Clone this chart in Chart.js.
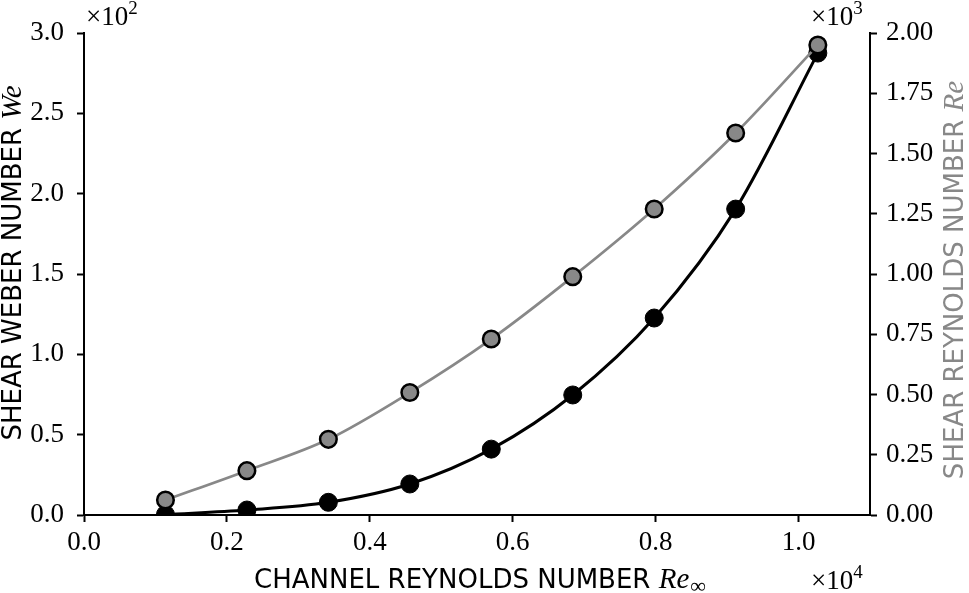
<!DOCTYPE html>
<html>
<head>
<meta charset="utf-8">
<script src="https://cdn.jsdelivr.net/npm/chart.js@4"></script>
<style>
html,body{margin:0;padding:0;background:#fff;}
#wrap{width:969px;height:593px;}
</style>
</head>
<body>
<div id="wrap"><canvas id="c" width="969" height="593"></canvas></div>
<script>
// Channel Reynolds number Re_inf (x 10^4)
const channelRe = [0.114, 0.228, 0.342, 0.456, 0.570, 0.684, 0.798, 0.912, 1.027];
// Shear Weber number We (x 10^2), left axis
const shearWeber = [0.003, 0.031, 0.079, 0.193, 0.41, 0.747, 1.226, 1.904, 2.875];
// Shear Reynolds number Re (x 10^3), right axis
const shearRe = [0.062, 0.184, 0.314, 0.508, 0.730, 0.989, 1.270, 1.585, 1.950];

const xTicks = [0.0, 0.2, 0.4, 0.6, 0.8, 1.0];
const yLeftTicks = [0.0, 0.5, 1.0, 1.5, 2.0, 2.5, 3.0];
const yRightTicks = [0.00, 0.25, 0.50, 0.75, 1.00, 1.25, 1.50, 1.75, 2.00];

const GRAY = '#888888';
const SERIF = '"Liberation Serif", "DejaVu Serif", serif';
const SANS = '"DejaVu Sans", "Liberation Sans", sans-serif';

const toPts = (xs, ys) => xs.map((x, i) => ({x: x, y: ys[i]}));

function axisCommon(ticksArr, decimals, pad) {
  return {
    afterBuildTicks: s => { s.ticks = ticksArr.map(v => ({value: v})); },
    ticks: {
      color: '#000',
      font: {family: SERIF, size: 27},
      padding: pad,
      callback: v => Number(v).toFixed(decimals)
    },
    grid: {drawOnChartArea: false, drawTicks: true, tickLength: 7, tickWidth: 2, color: '#000'},
    border: {display: true, color: '#000', width: 2}
  };
}

function drawMixed(ctx, parts, x, y, align) {
  let total = 0;
  parts.forEach(p => { ctx.font = p.font; p.w = ctx.measureText(p.text).width + (p.gap || 0); total += p.w; });
  let cx = align === 'center' ? x - total / 2 : (align === 'right' ? x - total : x);
  parts.forEach(p => {
    ctx.font = p.font;
    ctx.fillText(p.text, cx, y + (p.dy || 0));
    cx += p.w;
  });
}

const titlesPlugin = {
  id: 'titles',
  afterDraw(chart) {
    const ctx = chart.ctx;
    ctx.save();
    ctx.textBaseline = 'alphabetic';
    ctx.textAlign = 'left';
    ctx.fillStyle = '#000';
    // bottom title
    drawMixed(ctx, [
      {text: 'CHANNEL REYNOLDS NUMBER ', font: '26px ' + SANS},
      {text: 'Re', font: 'italic 29px ' + SERIF, gap: 1},
      {text: '\u221E', font: '22px ' + SERIF, dy: 5}
    ], 480, 588, 'center');
    // offset labels
    drawMixed(ctx, [
      {text: '\u00D710', font: '27px ' + SERIF},
      {text: '4', font: '19px ' + SERIF, dy: -11}
    ], 811, 589, 'left');
    drawMixed(ctx, [
      {text: '\u00D710', font: '27px ' + SERIF},
      {text: '2', font: '19px ' + SERIF, dy: -11}
    ], 86, 25, 'left');
    drawMixed(ctx, [
      {text: '\u00D710', font: '27px ' + SERIF},
      {text: '3', font: '19px ' + SERIF, dy: -11}
    ], 811, 25, 'left');
    // left title
    ctx.save();
    ctx.translate(21, 263);
    ctx.rotate(-Math.PI / 2);
    drawMixed(ctx, [
      {text: 'SHEAR WEBER NUMBER ', font: '26px ' + SANS},
      {text: 'We', font: 'italic 29px ' + SERIF}
    ], 0, 0, 'center');
    ctx.restore();
    // right title
    ctx.save();
    ctx.fillStyle = GRAY;
    ctx.translate(963, 280);
    ctx.rotate(-Math.PI / 2);
    drawMixed(ctx, [
      {text: 'SHEAR REYNOLDS NUMBER ', font: '26px ' + SANS},
      {text: 'Re', font: 'italic 29px ' + SERIF}
    ], 0, 0, 'center');
    ctx.restore();
    ctx.restore();
  }
};

new Chart(document.getElementById('c'), {
  type: 'line',
  data: {
    datasets: [
      {
        label: 'Shear Reynolds number',
        data: toPts(channelRe, shearRe),
        yAxisID: 'yR',
        borderColor: GRAY,
        borderWidth: 2.7,
        pointBackgroundColor: GRAY,
        pointBorderColor: '#000',
        pointBorderWidth: 2.5,
        pointRadius: 8.3,
        cubicInterpolationMode: 'monotone',
        order: 0
      },
      {
        label: 'Shear Weber number',
        data: toPts(channelRe, shearWeber),
        yAxisID: 'yL',
        borderColor: '#000',
        borderWidth: 3,
        pointBackgroundColor: '#000',
        pointBorderColor: '#000',
        pointBorderWidth: 1,
        pointRadius: 9,
        cubicInterpolationMode: 'monotone',
        order: 1
      }
    ]
  },
  options: {
    responsive: false,
    animation: false,
    devicePixelRatio: 1,
    layout: {padding: {top: 33, left: 0, right: 0, bottom: 0}},
    plugins: {legend: {display: false}, tooltip: {enabled: false}},
    scales: {
      x: Object.assign(axisCommon(xTicks, 1, 5), {
        type: 'linear', min: 0, max: 1.1, position: 'bottom',
        afterFit: s => { s.height = 78; }
      }),
      yL: Object.assign(axisCommon(yLeftTicks, 1, 13), {
        type: 'linear', min: 0, max: 3.0, position: 'left',
        afterFit: s => { s.width = 84; }
      }),
      yR: Object.assign(axisCommon(yRightTicks, 2, 9), {
        type: 'linear', min: 0, max: 2.0, position: 'right',
        afterFit: s => { s.width = 99; }
      })
    }
  },
  plugins: [titlesPlugin]
});
</script>
</body>
</html>
